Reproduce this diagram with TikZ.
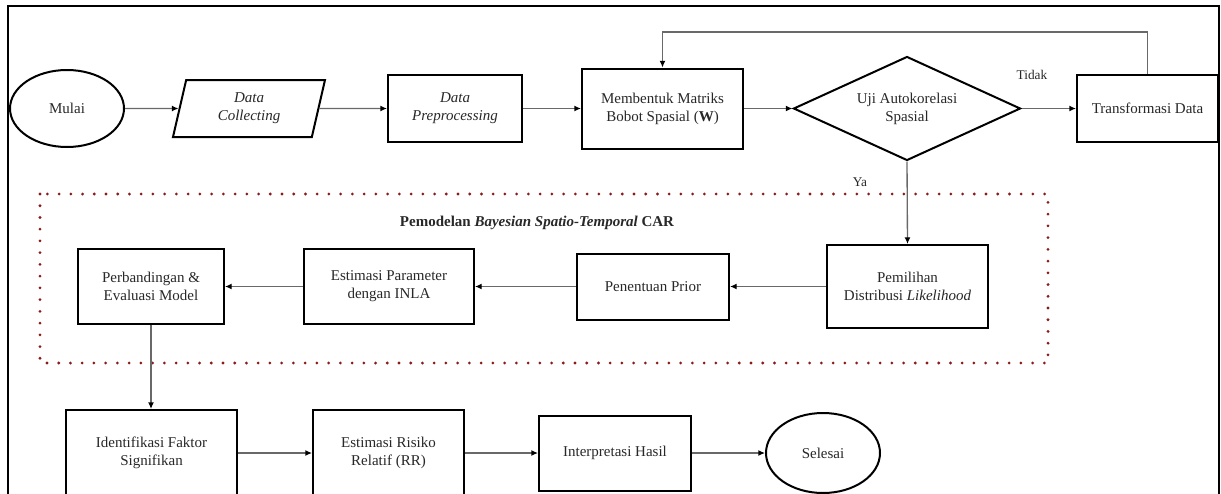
\documentclass[tikz,border=0pt]{standalone}
\usepackage{fontspec}
\setmainfont{Liberation Serif}
\usetikzlibrary{shapes.geometric,arrows.meta}
\definecolor{dotred}{RGB}{139,26,26}
\definecolor{txt}{RGB}{40,40,40}
\definecolor{arrgray}{RGB}{105,105,105}
\begin{document}
\begin{tikzpicture}[x=0.75pt,y=-0.75pt,
  every node/.style={font=\fontsize{11.25pt}{13.5pt}\selectfont, text=txt},
  box/.style={draw=black, line width=1.5pt, rectangle, align=center, inner sep=0pt},
  term/.style={draw=black, line width=1.5pt, ellipse, align=center, inner sep=0pt},
  para/.style={draw=black, line width=1.5pt, trapezium, trapezium left angle=67,
    trapezium right angle=113, trapezium stretches body, align=center, inner sep=0pt},
  decision/.style={draw=black, line width=1.5pt, diamond, aspect=2.18, align=center, inner sep=0pt},
  arr/.style={draw=arrgray, line width=1pt, -{Latex[length=5pt,width=4.5pt,color=black]}},
  lbl/.style={font=\fontsize{10pt}{12pt}\selectfont},
  frame/.style={draw=black, line width=1.5pt},
  groupbox/.style={draw=dotred, line width=2.3pt, line cap=round, dash pattern=on 0pt off 8.8pt}
]
\useasboundingbox (0,0) rectangle (1221,493);
\clip (0,0) rectangle (1221,493);
\fill[white] (0,0) rectangle (1221,493);

% outer frame
\draw[frame] (8,520) -- (8,6) -- (1219,6) -- (1219,520);

% dotted group
\draw[groupbox] (40,194) rectangle (1048,363);
\node[font=\fontsize{11.25pt}{13.5pt}\selectfont\bfseries] (title) at (537,223) {Pemodelan \textit{Bayesian Spatio-Temporal} CAR};

% top row
\node[term, minimum width=85.5pt, minimum height=57.75pt] (mulai) at (67,108.5) {Mulai};
\node[para, minimum width=114pt, minimum height=42.75pt] (collect) at (249,108.5) {\textit{Data}\\\textit{Collecting}};
\node[box, minimum width=100.5pt, minimum height=50.25pt] (prep) at (455,108.5) {\textit{Data}\\\textit{Preprocessing}};
\node[box, minimum width=120.75pt, minimum height=60pt] (matrix) at (662.5,108.5) {Membentuk Matriks\\Bobot Spasial (\textbf{W})};
\node[decision, minimum width=170.25pt, minimum height=78pt] (uji) at (907,108.5) {Uji Autokorelasi\\Spasial};
\node[box, minimum width=105.75pt, minimum height=50.25pt] (trans) at (1147.5,108.5) {Transformasi Data};

% middle row
\node[box, minimum width=120.75pt, minimum height=62.25pt] (pemilihan) at (907.5,286.5) {Pemilihan\\Distribusi \textit{Likelihood}};
\node[box, minimum width=114pt, minimum height=49.5pt] (prior) at (653,286.5) {Penentuan Prior};
\node[box, minimum width=127.5pt, minimum height=56.25pt] (inla) at (389,286.5) {Estimasi Parameter\\dengan INLA};
\node[box, minimum width=109.5pt, minimum height=56.25pt] (banding) at (151,286.5) {Perbandingan \&\\Evaluasi Model};

% bottom row
\node[box, minimum width=128.25pt, minimum height=64.5pt] (ident) at (151.5,453) {Identifikasi Faktor\\Signifikan};
\node[box, minimum width=113.25pt, minimum height=64.5pt] (rr) at (388.5,453) {Estimasi Risiko\\Relatif (RR)};
\node[box, minimum width=114pt, minimum height=56.25pt] (interp) at (615,453) {Interpretasi Hasil};
\node[term, minimum width=85.5pt, minimum height=60pt] (selesai) at (823,453) {Selesai};

% labels
\node[lbl] (tidak) at (1032,75) {Tidak};
\node[lbl] (ya) at (860,182) {Ya};

% connectors
\draw[arr] (mulai) -- (collect);
\draw[arr] (collect) -- (prep);
\draw[arr] (prep) -- (matrix);
\draw[arr] (matrix) -- (uji);
\draw[arr] (uji) -- (trans);
\draw[arr] (trans.north) -- ++(0,-42) -| (matrix.north);
\draw[arr] (uji.south) -- (pemilihan.north);
\draw[arr] (pemilihan) -- (prior);
\draw[arr] (prior) -- (inla);
\draw[arr] (inla) -- (banding);
\draw[arr] (banding.south) -- (banding.south |- ident.north);
\draw[arr] (ident) -- (rr);
\draw[arr] (rr) -- (interp);
\draw[arr] (interp) -- (selesai);
\end{tikzpicture}
\end{document}
